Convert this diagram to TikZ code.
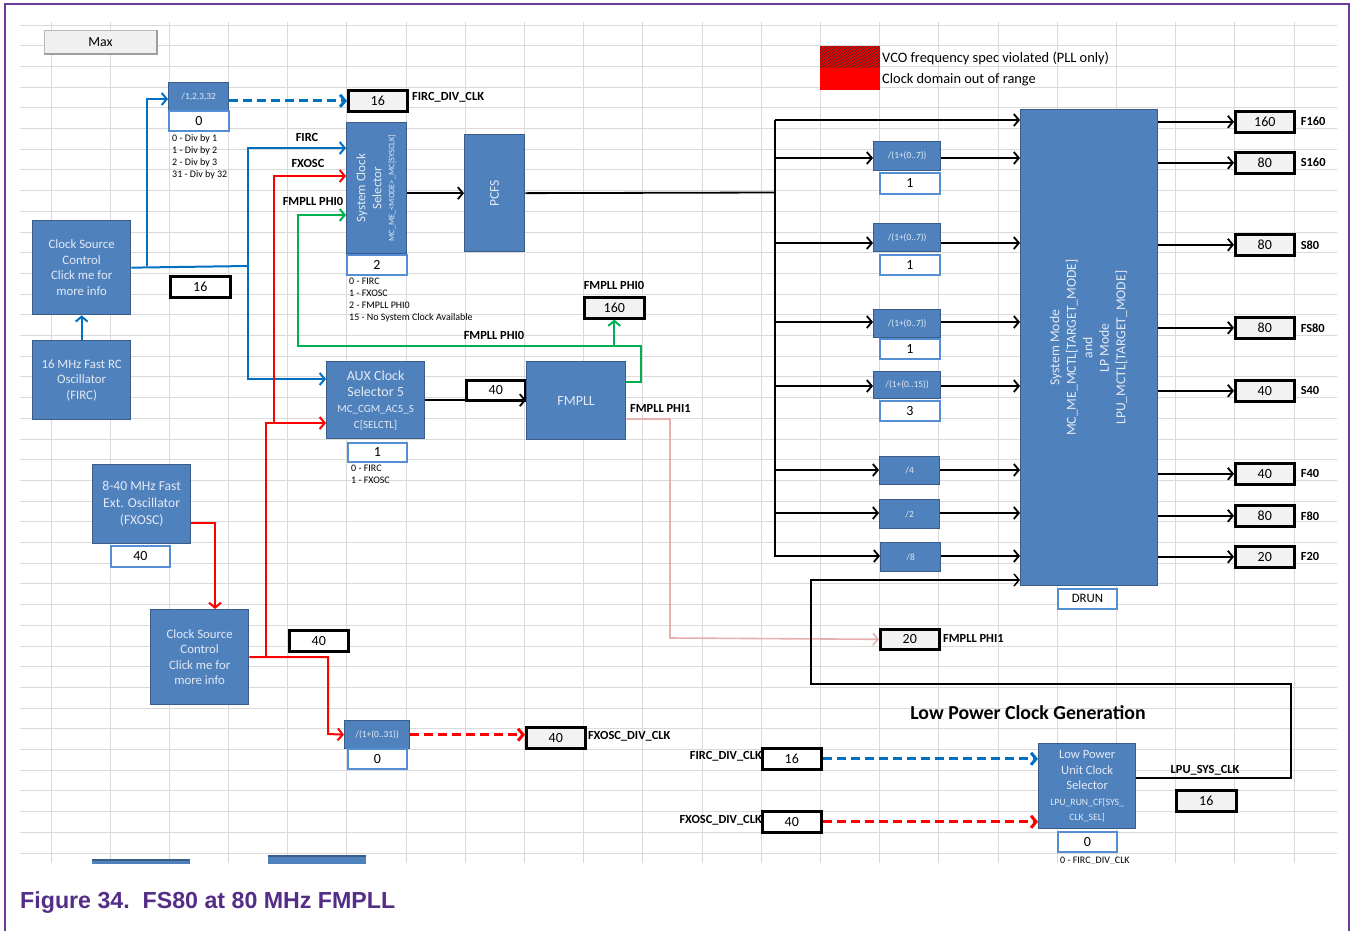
\documentclass[tikz,border=0pt]{standalone}
\usepackage{fontspec}
\setmainfont{Carlito}
\newfontfamily\capfont{Liberation Sans}
\usetikzlibrary{arrows.meta,patterns}
\definecolor{bblue}{HTML}{4F81BD}
\definecolor{bborder}{HTML}{385D8A}
\definecolor{btext}{HTML}{E3EAF5}
\definecolor{vborder}{HTML}{558ED5}
\definecolor{ogray}{HTML}{F2F2F2}
\definecolor{lblue}{HTML}{0070C0}
\definecolor{lred}{HTML}{FF0000}
\definecolor{lgreen}{HTML}{00B050}
\definecolor{lpink}{HTML}{E6B0B0}
\definecolor{gridc}{HTML}{DADADA}
\definecolor{purp}{HTML}{6A3D9A}
\definecolor{capc}{HTML}{532D86}
\newcommand\fsz[2]{\fontsize{#1}{#2}\selectfont}
\newcommand\bx[7]{%
  \pgfmathsetmacro\bxw{#4-#2}%
  \pgfmathsetmacro\bxh{#5-#3}%
  \node[#6,minimum width=\bxw pt,minimum height=\bxh pt,inner sep=0pt,anchor=north west] (#1) at (#2,#3) {#7};}
\tikzset{
 blk/.style={fill=bblue,draw=bborder,line width=1.3pt,text=btext,align=center,font=\fsz{12.8}{15.5}},
 divb/.style={blk,font=\fsz{9.4}{10}},
 val/.style={fill=white,draw=vborder,line width=1.8pt,font=\fsz{14}{15}},
 outg/.style={fill=ogray,draw=black,line width=2.6pt,font=\fsz{14}{15}},
 outw/.style={fill=white,draw=black,line width=2.6pt,font=\fsz{14}{15}},
 lab/.style={font=\bfseries\fsz{12.4}{13},inner sep=0pt},
 note/.style={font=\fsz{10}{12},align=left,inner sep=0pt,anchor=north west},
 ar/.style={-{Straight Barb[length=5pt,width=12pt]}},
 kl/.style={draw=black,line width=1.8pt},
 bll/.style={draw=lblue,line width=2pt},
 rdl/.style={draw=lred,line width=2pt},
 gnl/.style={draw=lgreen,line width=2pt},
 pkl/.style={draw=lpink,line width=1.6pt},
 dsh/.style={line width=3pt,dash pattern=on 9pt off 5pt},
 gridl/.style={draw=gridc,line width=1pt},
}
\begin{document}
\begin{tikzpicture}[x=1pt,y=-1pt]
\useasboundingbox (0,0) rectangle (1352,930);
\fill[white] (0,0) rectangle (1352,930);
% grid
\foreach \k in {0,...,40} \draw[gridl] (20,{25+20.7*\k}) -- (1337,{25+20.7*\k});
\foreach \k in {0,...,21} \draw[gridl] ({51+59.19*\k},22) -- ({51+59.19*\k},863);
% frame
\draw[purp,line width=2.5pt] (5,935) -- (5,4) -- (1349,4) -- (1349,935);
% caption
\node[anchor=base west,inner sep=0pt,text=capc,font=\capfont\bfseries\fsz{23.2}{26}] (cap) at (20,908) {Figure 34.\ \ FS80 at 80 MHz FMPLL};
% legend
\fill[lred] (820,46) rectangle (880,68);
\fill[pattern=north west lines,pattern color=black!85] (820,46) rectangle (880,68);
\fill[lred] (820,68) rectangle (880,90);
\node[anchor=west,inner sep=0pt,font=\fsz{14.4}{16}] (lg1) at (882,58) {VCO frequency spec violated (PLL only)};
\node[anchor=west,inner sep=0pt,font=\fsz{14.4}{16}] (lg2) at (882,80) {Clock domain out of range};
% Max button
\bx{max}{44}{30}{156}{53}{fill=gray!12,draw=gray!55,line width=0.8pt,font=\fsz{13.8}{15}}{Max}
\draw[gray!75,line width=1.6pt] (max.south west) -- (max.south east) -- (max.north east);
% left blocks
\bx{csc1}{32}{220}{130}{314}{blk,font=\fsz{12.8}{15.5}}{Clock Source\\Control\\Click me for\\more info}
\bx{firc}{32}{340}{130}{419}{blk}{16 MHz Fast RC\\Oscillator\\(FIRC)}
\bx{b16a}{169}{275}{229}{296}{outw}{16}
\bx{d1}{168}{82}{228}{110}{divb}{/1,2,3,32}
\bx{d1v}{168}{110}{228}{130}{val}{0}
\node[note] (n1) at (172,134) {0 - Div by 1\\1 - Div by 2\\2 - Div by 3\\31 - Div by 32};
\bx{o1}{347}{89}{406}{110}{outg}{16}
\node[lab,anchor=west] (o1l) at (412,97) {FIRC\_DIV\_CLK};
% system clock selector
\bx{sys}{346}{122}{406}{253}{blk}{\rotatebox{90}{\fsz{13}{16}\begin{tabular}{@{}c@{}}System Clock\\Selector\\[-3pt]{\fsz{8.4}{9}MC\_ME\_<MODE>\_MC[SYSCLK]}\end{tabular}}}
\bx{sysv}{346}{254}{406}{274}{val}{2}
\node[note] (n2) at (349,278) {0 - FIRC\\1 - FXOSC\\2 - FMPLL PHI0\\15 - No System Clock Available};
\bx{pcfs}{464}{134}{524}{251}{blk}{\rotatebox{90}{\fsz{13.5}{14}PCFS}}
% labels for inputs
\node[lab] (lfirc) at (307,137) {FIRC};
\node[lab] (lfxosc) at (308,163) {FXOSC};
\node[lab] (lphi0a) at (313,201) {FMPLL PHI0};
\node[lab] (lphi0b) at (614,285) {FMPLL PHI0};
\node[lab] (lphi0c) at (494,335) {FMPLL PHI0};
\bx{b160}{583}{296}{643}{317}{outg}{160}
% AUX and FMPLL
\bx{aux}{326}{361}{424}{438}{blk,font=\fsz{14}{16}}{AUX Clock\\Selector 5\\\fsz{11}{13}MC\_CGM\_AC5\_S\\\fsz{11}{13}C[SELCTL]}
\bx{auxv}{347}{442}{406}{461}{val}{1}
\node[note] (n3) at (351,465) {0 - FIRC\\1 - FXOSC};
\bx{b40a}{465}{379}{524}{399}{outw}{40}
\bx{pll}{526}{361}{625}{439}{blk,font=\fsz{14}{15}}{FMPLL}
\node[lab,anchor=west] (lphi1a) at (630,408) {FMPLL PHI1};
\bx{b20}{879}{628}{938}{648}{outg}{20}
\node[lab,anchor=west] (lphi1b) at (943,638) {FMPLL PHI1};
% FXOSC side
\bx{fxo}{92}{464}{190}{543}{blk,font=\fsz{13.6}{17}}{8-40 MHz Fast\\Ext. Oscillator\\(FXOSC)}
\bx{fxov}{110}{545}{169}{566}{val}{40}
\bx{csc2}{150}{609}{248}{704}{blk,font=\fsz{12.8}{15.5}}{Clock Source\\Control\\Click me for\\more info}
\bx{b40b}{288}{629}{347}{650}{outw}{40}
\bx{d2}{344}{720}{409}{748}{divb}{/(1+(0..31))}
\bx{d2v}{347}{748}{406}{768}{val}{0}
\bx{b40c}{525}{726}{584}{747}{outg}{40}
\node[lab,anchor=west] (lfxd) at (588,736) {FXOSC\_DIV\_CLK};
% right side dividers
\bx{r1}{873}{141}{940}{170}{divb}{/(1+(0..7))}
\bx{r1v}{879}{172}{939}{193}{val}{1}
\bx{r2}{873}{223}{940}{251}{divb}{/(1+(0..7))}
\bx{r2v}{879}{254}{939}{274}{val}{1}
\bx{r3}{873}{309}{940}{337}{divb}{/(1+(0..7))}
\bx{r3v}{879}{338}{939}{358}{val}{1}
\bx{r4}{873}{371}{940}{398}{divb}{/(1+(0..15))}
\bx{r4v}{879}{400}{939}{420}{val}{3}
\bx{r5}{879}{456}{939}{484}{divb}{/4}
\bx{r6}{879}{499}{939}{528}{divb}{/2}
\bx{r7}{880}{542}{940}{571}{divb}{/8}
% main box
\bx{main}{1020}{109}{1157}{585}{blk}{\rotatebox{90}{\fsz{13.7}{16.5}\begin{tabular}{@{}c@{}}System Mode\\MC\_ME\_MCTL[TARGET\_MODE]\\and\\LP Mode\\LPU\_MCTL[TARGET\_MODE]\end{tabular}}}
\bx{drun}{1057}{588}{1116}{608}{val,font=\fsz{12.8}{13}}{DRUN}
% outputs
\bx{oa}{1234}{110}{1293}{131}{outg}{160}
\bx{ob}{1234}{151}{1293}{172}{outg}{80}
\bx{oc}{1234}{233}{1293}{254}{outg}{80}
\bx{od}{1234}{316}{1293}{337}{outg}{80}
\bx{oe}{1234}{379}{1293}{400}{outg}{40}
\bx{of}{1234}{462}{1293}{483}{outg}{40}
\bx{og}{1234}{504}{1293}{525}{outg}{80}
\bx{oh}{1234}{545}{1293}{566}{outg}{20}
\foreach \n/\t in {oa/F160,ob/S160,oc/S80,od/FS80,oe/S40,of/F40,og/F80,oh/F20}
  \node[lab,anchor=west] (\n l) at ([xshift=5pt]\n.east) {\t};
% low power section
\node[font=\bfseries\fsz{19.8}{22},inner sep=0pt] (lpt) at (1028,713) {Low Power Clock Generation};
\bx{lpu}{1038}{743}{1135}{828}{blk,font=\fsz{12.6}{15.5}}{Low Power\\Unit Clock\\Selector\\\fsz{9.7}{12}LPU\_RUN\_CF[SYS\_\\\fsz{9.7}{12}CLK\_SEL]}
\bx{lpuv}{1057}{831}{1116}{851}{val}{0}
\bx{bf16}{761}{747}{820}{768}{outw}{16}
\node[lab,anchor=east] (lfd) at (762,756) {FIRC\_DIV\_CLK};
\bx{bx40}{761}{810}{820}{831}{outw}{40}
\node[lab,anchor=east] (lxd) at (762,820) {FXOSC\_DIV\_CLK};
\node[lab] (lsys) at (1205,770) {LPU\_SYS\_CLK};
\bx{bsys}{1175}{789}{1235}{810}{outg}{16}
\begin{scope}
\clip (0,0) rectangle (1352,863);
\node[note,font=\fsz{10}{10}] (n4) at (1060,857) {0 - FIRC\_DIV\_CLK};
\fill[bblue] (92,860) rectangle (190,866);
\draw[bborder,line width=1.3pt] (92,860) -- (190,860);
\fill[bblue] (268,856) rectangle (366,866);
\draw[bborder,line width=1.3pt] (268,856) -- (366,856);
\end{scope}
% ===== connectors =====
% FIRC path (blue)
\draw[bll,ar] (firc.north) -- (csc1.south);
\draw[bll] (csc1.east) -- (248,266);
\draw[bll,ar] (147,266) |- (d1.west |- 0,99);
\draw[bll,ar] (248,266) |- (sys.west |- 0,148);
\draw[bll,ar] (248,266) |- (aux.west |- 0,379);
\draw[bll,dsh,ar] (d1.east |- o1.west) -- (o1.west);
% FXOSC path (red)
\draw[rdl,ar] (fxo.east |- 0,523) -| (csc2.north -| 215,0);
\draw[rdl,ar] (csc2.east) -| (328,734) -- (d2.west);
\draw[rdl,ar] (266,657) |- (aux.west |- 0,423);
\draw[rdl,ar] (274,423) |- (sys.west |- 0,176);
\draw[rdl,dsh,ar] (d2.east) -- (b40c.west |- d2.east);
% FMPLL PHI0 (green)
\draw[gnl,ar] (pll.east |- 0,382) -- (641,382) -- (641,346) -- (298,346) -- (298,215) -- (sys.west |- 0,215);
\draw[gnl,ar] (b160.south |- 0,346) -- (b160.south);
% FMPLL PHI1 (pink)
\draw[pkl,ar] (pll.east |- 0,419) -| (670,638) -- (b20.west);
% black main path
\draw[kl,ar] (sys.east |- pcfs.west) -- (pcfs.west);
\draw[kl] (pcfs.east) -- (775,192.5);
\coordinate (bt) at (775,120);
\coordinate (bb) at (775,557);
\draw[kl] (bt) -- (bb);
\draw[kl,ar] (aux.east) -- (pll.west |- aux.east);
\draw[kl,ar] (bt) -- (main.west |- bt);
\foreach \r/\y in {r1/158,r2/243,r3/322,r4/386,r5/470,r6/513,r7/556} {
  \draw[kl,ar] (775,\y) -- (\r.west |- 0,\y);
  \draw[kl,ar] (\r.east |- 0,\y) -- (main.west |- 0,\y);
}
\foreach \o in {oa,ob,oc,od,oe,of,og,oh}
  \draw[kl,ar] (main.east |- \o.west) -- (\o.west);
% LPU_SYS_CLK feedback
\draw[kl,line width=1.5pt,ar] (lpu.east |- 0,778) -| (1291,684) -| (811,580) -- (main.west |- 0,580);
% low power inputs
\draw[bll,dsh,ar] (bf16.east) -- (lpu.west |- bf16.east);
\draw[rdl,dsh,ar] (bx40.east) -- (lpu.west |- bx40.east);
\end{tikzpicture}
\end{document}
